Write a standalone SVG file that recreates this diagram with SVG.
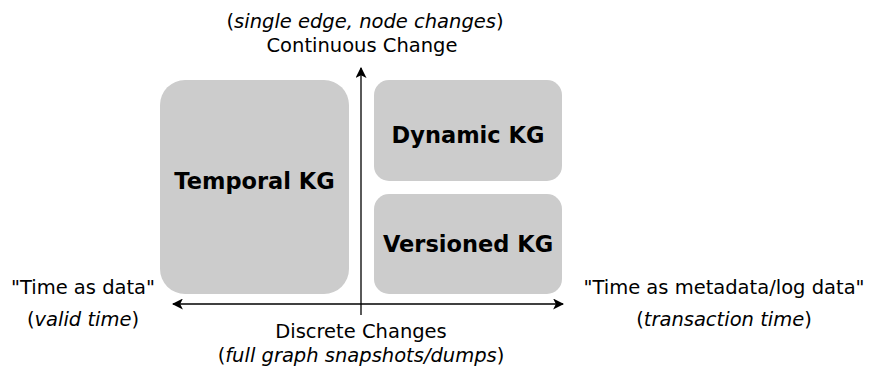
<svg xmlns="http://www.w3.org/2000/svg" width="872" height="370" viewBox="0 0 872 370">
<defs>
<marker id="ah" viewBox="0 0 10 10" refX="9" refY="5" markerWidth="11" markerHeight="11" markerUnits="userSpaceOnUse" orient="auto-start-reverse">
<path d="M0,0 L10,5 L0,10 L2.5,5 Z" fill="#000"/>
</marker>
<style>
.box{fill:#cccccc;}
.lbl{font-family:"DejaVu Sans",Verdana,sans-serif;font-size:22.5px;font-weight:bold;text-anchor:middle;fill:#000;}
.t{font-family:"DejaVu Sans",Verdana,sans-serif;font-size:19.5px;text-anchor:middle;fill:#000;}
.ax{stroke:#000;stroke-width:1.3;fill:none;}
</style>
</defs>
<rect width="872" height="370" fill="#fff"/>
<g id="temporal">
<rect class="box" x="160" y="80" width="189" height="214" rx="25"/>
<text class="lbl" x="254.5" y="189">Temporal KG</text>
</g>
<g id="dynamic">
<rect class="box" x="374" y="80" width="188" height="101" rx="15"/>
<text class="lbl" x="468" y="143">Dynamic KG</text>
</g>
<g id="versioned">
<rect class="box" x="374" y="194" width="188" height="100" rx="15"/>
<text class="lbl" x="468" y="252">Versioned KG</text>
</g>
<g id="connectors">
<line class="ax" x1="361" y1="315" x2="361" y2="68" marker-end="url(#ah)"/>
<line class="ax" x1="173" y1="304" x2="563" y2="304" marker-start="url(#ah)" marker-end="url(#ah)"/>
</g>
<g id="labels">
<text class="t" x="365" y="28">(<tspan font-style="italic">single edge, node changes</tspan>)</text>
<text class="t" x="362" y="52">Continuous Change</text>
<text class="t" x="83" y="294">"Time as data"</text>
<text class="t" x="83" y="326">(<tspan font-style="italic">valid time</tspan>)</text>
<text class="t" x="724" y="294">"Time as metadata/log data"</text>
<text class="t" x="724" y="326">(<tspan font-style="italic">transaction time</tspan>)</text>
<text class="t" x="361" y="338">Discrete Changes</text>
<text class="t" x="361" y="362">(<tspan font-style="italic">full graph snapshots/dumps</tspan>)</text>
</g>
</svg>
